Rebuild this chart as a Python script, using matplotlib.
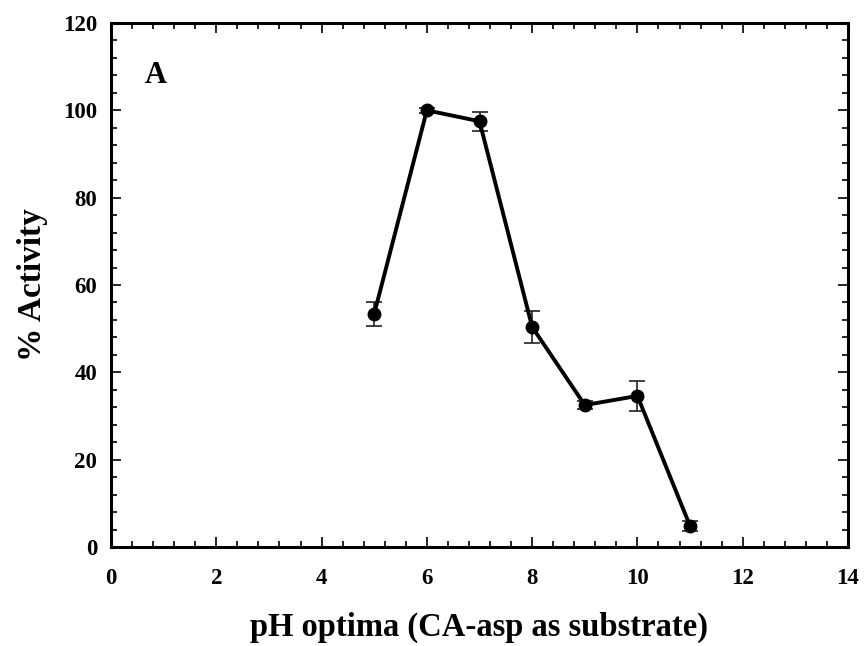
import matplotlib.pyplot as plt
from matplotlib.ticker import MultipleLocator

# data
ph = [5, 6, 7, 8, 9, 10, 11]
activity = [53.4, 100.0, 97.5, 50.4, 32.5, 34.6, 4.8]
err = [2.7, 0.5, 2.2, 3.7, 1.0, 3.4, 1.2]

plt.rcParams['font.family'] = ['Liberation Serif', 'DejaVu Serif']
plt.rcParams['font.weight'] = 'bold'

fig = plt.figure(figsize=(8.65, 6.46), dpi=100)
ax = fig.add_axes([111 / 865, 1 - 547 / 646, (848 - 111) / 865, (547 - 23) / 646])

ax.errorbar(ph, activity, yerr=err, color='black', linewidth=2.8,
            marker='o', markersize=9, ecolor='#222222', elinewidth=1.2,
            capsize=5.5, capthick=1.2)

ax.set_xlim(0, 14)
ax.set_ylim(0, 120)
ax.xaxis.set_major_locator(MultipleLocator(2))
ax.xaxis.set_minor_locator(MultipleLocator(0.4))
ax.yaxis.set_major_locator(MultipleLocator(20))
ax.yaxis.set_minor_locator(MultipleLocator(4))
ax.tick_params(which='both', direction='in', top=True, right=True, width=1.2)
ax.tick_params(which='major', length=7, labelsize=16.5)
ax.tick_params(which='minor', length=4)
ax.tick_params(axis='x', which='major', pad=15)
ax.tick_params(axis='y', which='major', pad=10)
for s in ax.spines.values():
    s.set_linewidth(2.2)
for lab in ax.get_xticklabels() + ax.get_yticklabels():
    lab.set_fontweight('bold')

ax.set_xlabel('pH optima (CA-asp as substrate)', fontsize=23.5, fontweight='bold', va='center')
ax.xaxis.set_label_coords(0.5, -0.153)
ax.set_ylabel('% Activity', fontsize=24, fontweight='bold', va='center')
ax.yaxis.set_label_coords(-0.107, 0.5)
ax.text(0.85, 108, 'A', fontsize=22, fontweight='bold', ha='center', va='center')

fig.savefig('out.png', dpi=100)
